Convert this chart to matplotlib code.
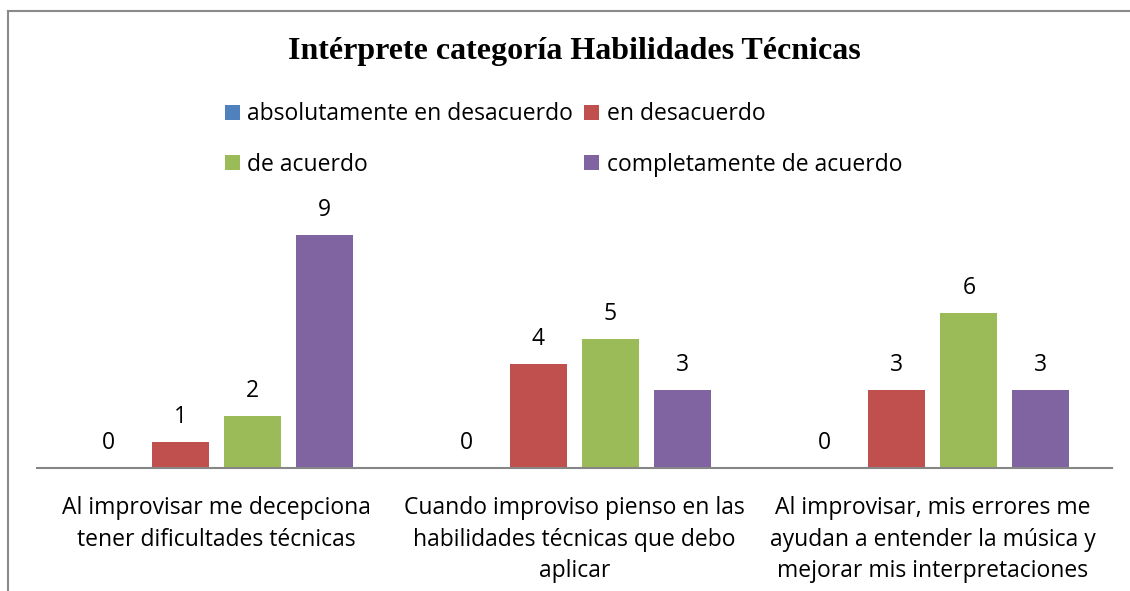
import numpy as np
import matplotlib.pyplot as plt
from matplotlib.lines import Line2D

# Data
categories = ['Al improvisar me decepciona\ntener dificultades técnicas',
              'Cuando improviso pienso en las\nhabilidades técnicas que debo\naplicar',
              'Al improvisar, mis errores me\nayudan a entender la música y\nmejorar mis interpretaciones']
series_names = ['absolutamente en desacuerdo', 'en desacuerdo',
                'de acuerdo', 'completamente de acuerdo']
abs_desacuerdo = [0, 0, 0]
en_desacuerdo = [1, 4, 3]
de_acuerdo = [2, 5, 6]
completamente = [9, 3, 3]
colors = ['#4F81BD', '#C0504D', '#9BBB59', '#8064A2']

W, H = 1130, 591
fig = plt.figure(figsize=(W / 100, H / 100), dpi=100)
plt.rcParams['font.family'] = ['Open Sans', 'DejaVu Sans']
fs = 16.5

# frame of the chart area (top and left only visible)
fig.add_artist(Line2D([8 / W, 1.0], [1 - 11 / H, 1 - 11 / H], color='#8a8a8a', lw=1.5))
fig.add_artist(Line2D([8 / W, 8 / W], [0, 1 - 11 / H], color='#8a8a8a', lw=1.5))

ax = fig.add_axes([37 / W, 1 - 468 / H, (1112 - 37) / W, (468 - 200) / H])
x = np.arange(len(categories))
step = 72 / 358.3
width = 57 / 358.3
all_series = [abs_desacuerdo, en_desacuerdo, de_acuerdo, completamente]
bars = []
for i, vals in enumerate(all_series):
    b = ax.bar(x + (i - 1.5) * step, vals, width, color=colors[i], label=series_names[i])
    bars.append(b)
    for xi, v in zip(x + (i - 1.5) * step, vals):
        ax.annotate(str(v), (xi, v), xytext=(0, 25), textcoords='offset pixels',
                    ha='center', va='center', fontsize=fs)

ax.set_xlim(-0.5, 2.5)
ax.set_ylim(0, 268 / 25.9)
for s in ['top', 'right', 'left']:
    ax.spines[s].set_visible(False)
ax.spines['bottom'].set_color('#868686')
ax.spines['bottom'].set_linewidth(1.5)
ax.set_yticks([])
ax.set_xticks(x)
ax.set_xticklabels(categories, fontsize=fs, linespacing=1.43)
ax.tick_params(axis='x', length=0, pad=20)

fig.text(574.5 / W, 1 - 52 / H, 'Intérprete categoría Habilidades Técnicas',
         ha='center', va='center', fontsize=23, fontweight='bold', family='Liberation Serif')

# legend in 2 columns, filled row by row
order = [0, 2, 1, 3]
fig.legend(handles=[bars[k] for k in order], labels=[series_names[k] for k in order],
           ncol=2, loc='upper left',
           bbox_to_anchor=(225 / W, 1 - 102.5 / H), frameon=False, fontsize=fs,
           handlelength=0.65, handleheight=0.65, handletextpad=0.33,
           columnspacing=0.48, labelspacing=1.14, borderaxespad=0, borderpad=0)

fig.savefig('out.png', dpi=100)
